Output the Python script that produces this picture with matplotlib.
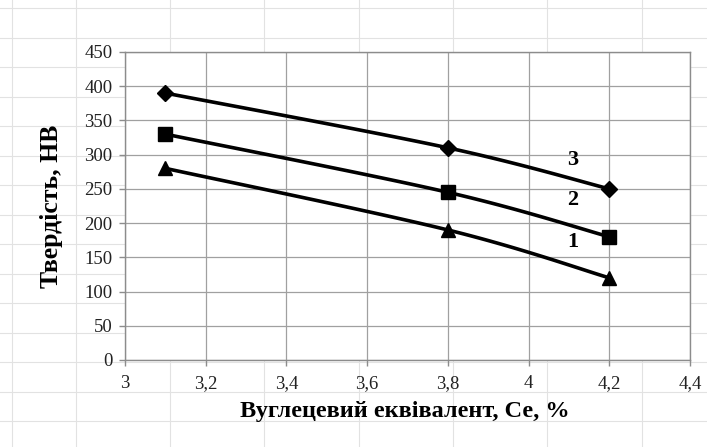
import numpy as np
import matplotlib
matplotlib.use("Agg")
import matplotlib.pyplot as plt

# ── Data ─────────────────────────────────────────────────────────────────────
carbon_eq = [3.1, 3.8, 4.2]
hb_curve1 = [280, 190, 120]   # triangles
hb_curve2 = [330, 245, 180]   # squares
hb_curve3 = [390, 310, 250]   # diamonds
curve_labels = ["1", "2", "3"]
label_pos = [(4.11, 172), (4.11, 234), (4.11, 292)]

x_ticks = [3, 3.2, 3.4, 3.6, 3.8, 4, 4.2, 4.4]
y_ticks = list(range(0, 451, 50))

plt.rcParams["font.family"] = ["Liberation Serif", "DejaVu Serif"]


def smooth(xs, ys, n=40):
    """Excel-style smoothed line (Catmull-Rom Bezier through the points)."""
    pts = np.column_stack([xs, ys]).astype(float)
    # normalise so the tension looks the same as on screen
    scale = np.array([1.4, 450.0])
    p = pts / scale
    p = np.vstack([p[0], p, p[-1]])
    out = []
    for i in range(1, len(p) - 2):
        p0, p1, p2, p3 = p[i - 1], p[i], p[i + 1], p[i + 2]
        c1 = p1 + (p2 - p0) / 6
        c2 = p2 - (p3 - p1) / 6
        t = np.linspace(0, 1, n)[:, None]
        seg = ((1 - t) ** 3 * p1 + 3 * (1 - t) ** 2 * t * c1
               + 3 * (1 - t) * t ** 2 * c2 + t ** 3 * p2)
        out.append(seg if i == 1 else seg[1:])
    out = np.vstack(out) * scale
    return out[:, 0], out[:, 1]


fig = plt.figure(figsize=(7.07, 4.47), dpi=100)

# ── faint spreadsheet grid behind the chart ─────────────────────────────────
W, H = 707, 447
bg = fig.add_axes([0, 0, 1, 1])
bg.set_xlim(0, W)
bg.set_ylim(H, 0)
bg.axis("off")
for cx in [12, 76, 170, 264, 359, 453, 547, 642]:
    bg.axvline(cx, color="#e2e2e2", lw=0.8)
for ry in np.arange(8, H, 29.5):
    bg.axhline(ry, color="#e2e2e2", lw=0.8)

# ── main plot area (pixel box 125..690 x 52..360) ───────────────────────────
ax = fig.add_axes([125 / W, 1 - 360 / H, 565 / W, 308 / H])
ax.set_facecolor("white")
ax.set_xlim(3, 4.4)
ax.set_ylim(0, 450)
ax.set_xticks(x_ticks)
ax.set_xticklabels([f"{t:g}".replace(".", ",") for t in x_ticks])
ax.set_yticks(y_ticks)
ax.grid(True, color="#a0a0a0", lw=0.9)
ax.set_axisbelow(True)
for s in ax.spines.values():
    s.set_color("#8c8c8c")
    s.set_linewidth(1.0)
ax.tick_params(axis="both", direction="out", length=4, width=1.0,
               color="#8c8c8c", labelsize=13.5, labelcolor="#222222")
ax.tick_params(axis="x", pad=7)
ax.tick_params(axis="y", pad=5)

for ys, mk, ms in [(hb_curve1, "^", 10.5), (hb_curve2, "s", 10), (hb_curve3, "D", 8)]:
    sx, sy = smooth(carbon_eq, ys)
    ax.plot(sx, sy, color="black", lw=2.6, solid_capstyle="round", zorder=3)
    ax.plot(carbon_eq, ys, ls="none", marker=mk, ms=ms, color="black", zorder=4)

for lab, (lx, ly) in zip(curve_labels, label_pos):
    ax.text(lx, ly, lab, fontsize=16, fontweight="bold", ha="center", va="center")

fig.text(52 / W, 1 - 206 / H, "Твердість, НВ", rotation=90, fontsize=18.5,
         fontweight="bold", ha="center", va="center")
fig.text(405 / W, 1 - 411 / H, "Вуглецевий еквівалент, Се, %", fontsize=17.5,
         fontweight="bold", ha="center", va="center")

fig.savefig("out.png", dpi=100, facecolor="white")
